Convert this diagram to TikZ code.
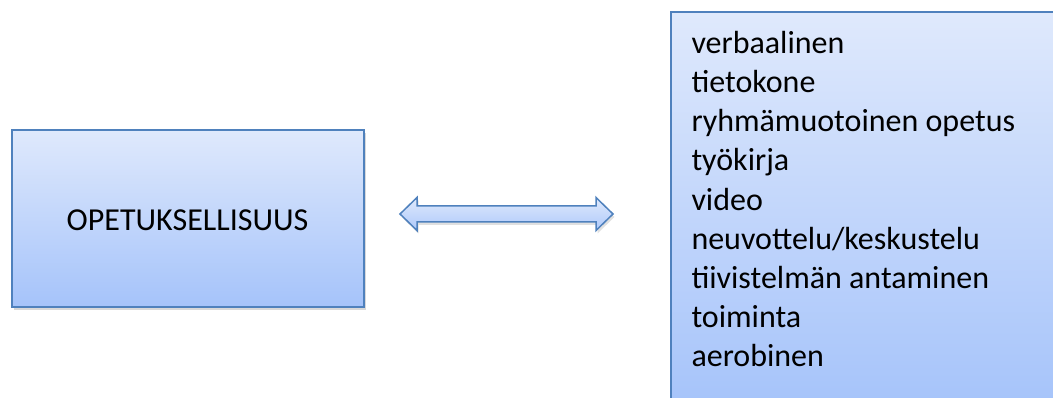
\documentclass[tikz,border=0pt]{standalone}
\usepackage{fontspec}
\setmainfont{Carlito}
\usetikzlibrary{shadows}
\definecolor{bord}{RGB}{79,129,189}
\definecolor{gtop}{RGB}{223,233,252}
\definecolor{gbot}{RGB}{165,195,250}
\begin{document}
\begin{tikzpicture}[x=1pt,y=1pt,
  panel/.style={draw=bord, line width=2pt, top color=gtop, bottom color=gbot,
    drop shadow={shadow xshift=2pt, shadow yshift=-3pt, opacity=0.25, fill=black!60},
    inner sep=0pt, outer sep=0pt},
  label/.style={font=\fontsize{32}{39}\selectfont, inner sep=0pt, outer sep=0pt, text=black},
  listitem/.style={label, anchor=base west}
]
\useasboundingbox (0,0) rectangle (1053,398);
% left box
\node[panel, minimum width=352pt, minimum height=177pt] (opt) at (188,179.5) {};
\node[label, anchor=base] (optlabel) at (187.5,167.3) {OPETUKSELLISUUS};
% right box (runs off the page at right and bottom)
\node[panel, anchor=north west, minimum width=420pt, minimum height=400pt] (list) at (671,386) {};
\foreach \t [count=\i] in {verbaalinen, tietokone, ryhmämuotoinen opetus, työkirja, video, neuvottelu/keskustelu, tiivistelmän antaminen, toiminta, aerobinen}
  \node[listitem] (item\i) at (691.5,{398-53.3-39.2*(\i-1)}) {\t};
% double arrow
\path[draw=bord, line width=1.5pt, line join=miter, top color=gtop, bottom color=gbot!85!gtop,
      drop shadow={shadow xshift=1.5pt, shadow yshift=-3pt, opacity=0.2, fill=black!60}]
  (400,184) -- (417,200.5) -- (417,192) -- (596,192) -- (596,200.5) -- (613,184)
  -- (596,167.5) -- (596,176) -- (417,176) -- (417,167.5) -- cycle;
\end{tikzpicture}
\end{document}
